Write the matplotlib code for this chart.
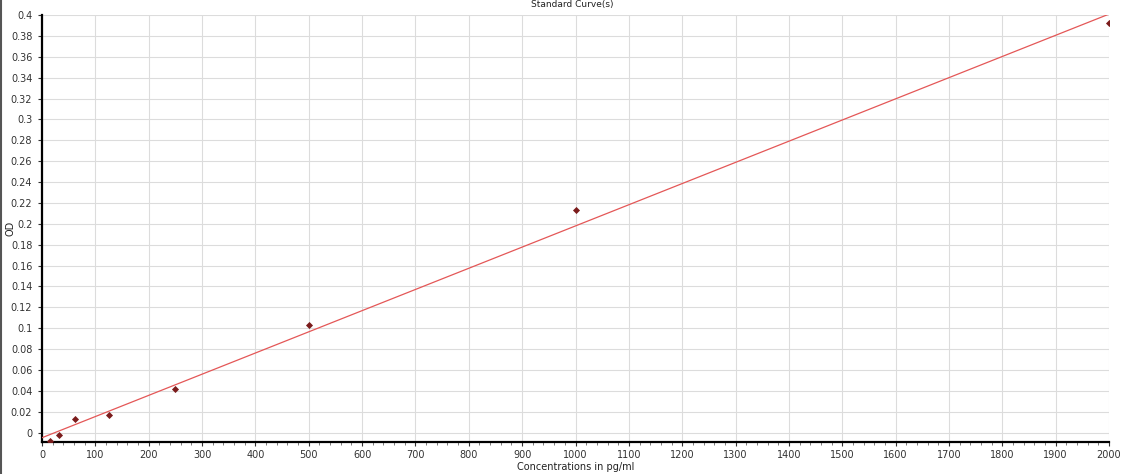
import numpy as np
import matplotlib
matplotlib.use("Agg")
import matplotlib.pyplot as plt
from matplotlib.ticker import MultipleLocator, FuncFormatter

# Data
concentrations = [15.625, 31.25, 62.5, 125, 250, 500, 1000, 2000]
od_values = [-0.0084, -0.0021, 0.0130, 0.0165, 0.0417, 0.1031, 0.2128, 0.3925]
title = "Standard Curve(s)"
x_label = "Concentrations in pg/ml"
y_label = "OD"

W, H = 1146, 474
fig = plt.figure(figsize=(W / 100, H / 100), dpi=100)
fig.patch.set_facecolor("white")

left, right, top, bottom = 42, 1109, 15, 442
ax = fig.add_axes([left / W, 1 - bottom / H, (right - left) / W, (bottom - top) / H])

# Fit line
slope, intercept = np.polyfit(concentrations, od_values, 1)
xfit = np.array([0, 2000])
ax.plot(xfit, slope * xfit + intercept, color="#e45757", lw=0.9, zorder=3)

ax.scatter(concentrations, od_values, marker="D", s=13, color="#7b1c1c",
           zorder=4, linewidths=0)

ax.set_xlim(0, 2000)
ax.set_ylim(-0.009, 0.4)
ax.xaxis.set_major_locator(MultipleLocator(100))
ax.xaxis.set_minor_locator(MultipleLocator(20))
ax.yaxis.set_major_locator(MultipleLocator(0.02))

def yfmt(v, p):
    s = f"{v:.2f}".rstrip("0").rstrip(".")
    if s == "-0":
        s = "0"
    return s

ax.yaxis.set_major_formatter(FuncFormatter(yfmt))

ax.grid(True, which="major", color="#dcdcdc", lw=0.8, zorder=0)
ax.set_axisbelow(True)

for s in ["top", "right"]:
    ax.spines[s].set_visible(False)
for s in ["left", "bottom"]:
    ax.spines[s].set_linewidth(1.6)
    ax.spines[s].set_color("black")

ax.tick_params(axis="both", which="major", labelsize=7, colors="#333333",
               length=3, width=0.8, pad=3)
ax.tick_params(axis="x", which="minor", length=2, width=0.6, colors="#666666")
ax.tick_params(axis="y", which="major", pad=4)

fig.text(572 / W, 1 - 5 / H, title, ha="center", va="center", fontsize=6.5, color="#222222")
fig.text((left + right) / 2 / W, 1 - 467 / H, x_label, ha="center", va="center",
         fontsize=7, color="#222222")
fig.text(10 / W, 1 - 228 / H, y_label, ha="center", va="center", rotation=90,
         fontsize=7, color="#222222")

# Left border of the window
fig.add_artist(plt.Line2D([1 / W, 1 / W], [0, 1], color="#555555", lw=1.5,
                          transform=fig.transFigure))

fig.savefig("out.png", dpi=100, facecolor="white")
